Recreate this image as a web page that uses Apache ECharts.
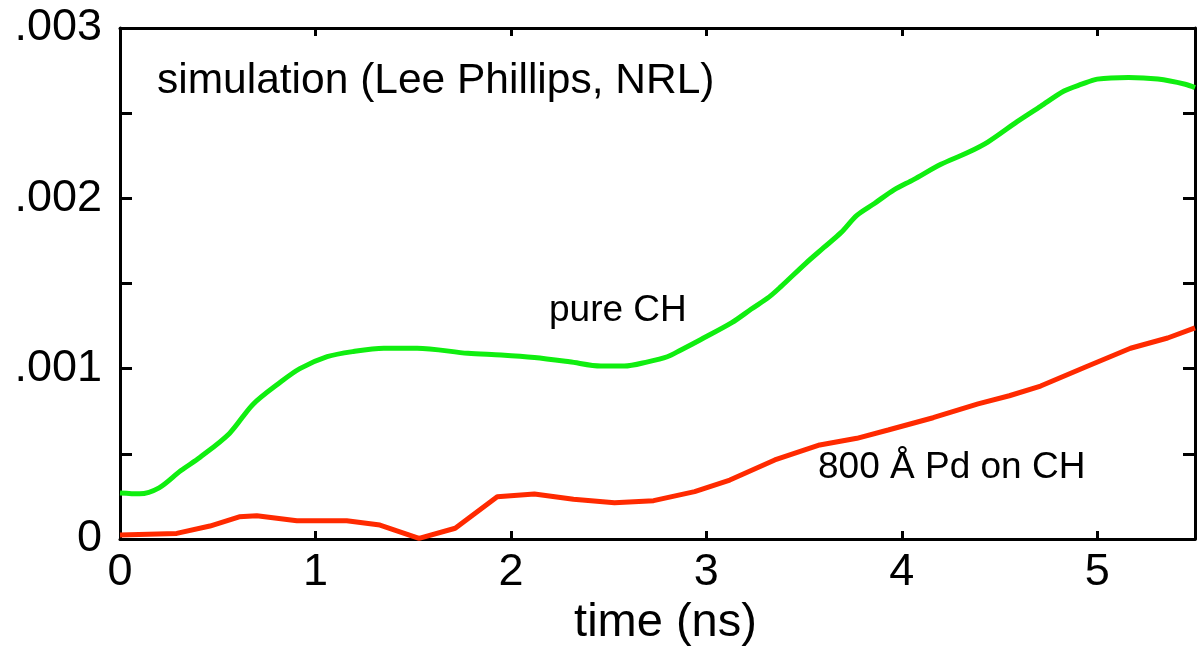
<!DOCTYPE html>
<html>
<head>
<meta charset="utf-8">
<title>simulation (Lee Phillips, NRL)</title>
<script src="https://cdn.jsdelivr.net/npm/echarts@6.0.0/dist/echarts.min.js"></script>
<style>
  html, body { margin: 0; padding: 0; background: #fff; }
  #chart { width: 1203px; height: 652px; }
</style>
</head>
<body>
<div id="chart"></div>
<script>
// values
const pureTime = [0, 0.1, 0.2, 0.31, 0.41, 0.56, 0.68, 0.82, 0.92, 1.06, 1.19, 1.35, 1.52, 1.78, 1.95, 2.12, 2.30, 2.46, 2.58, 2.70, 2.80, 2.87, 2.97, 3.13, 3.23, 3.32, 3.38, 3.51, 3.60, 3.69, 3.77, 3.86, 3.96, 4.06, 4.20, 4.34, 4.44, 4.59, 4.71, 4.83, 4.92, 5.00, 5.16, 5.31, 5.45, 5.5];
const pureCH = [0.00027, 0.000265, 0.0003, 0.0004, 0.00048, 0.00062, 0.00079, 0.00092, 0.001, 0.00107, 0.0011, 0.00112, 0.00112, 0.00109, 0.00108, 0.001065, 0.00104, 0.001015, 0.001015, 0.00104, 0.00107, 0.00111, 0.00117, 0.00127, 0.00135, 0.00142, 0.00148, 0.00162, 0.00171, 0.0018, 0.0019, 0.00197, 0.00205, 0.00211, 0.0022, 0.00227, 0.00233, 0.00245, 0.00254, 0.00263, 0.00267, 0.0027, 0.00271, 0.0027, 0.00267, 0.00265];

const pdTime = [0, 0.29, 0.46, 0.61, 0.70, 0.905, 1.16, 1.33, 1.53, 1.715, 1.93, 2.12, 2.32, 2.53, 2.73, 2.94, 3.12, 3.35, 3.58, 3.77, 3.93, 4.16, 4.39, 4.55, 4.71, 4.94, 5.17, 5.36, 5.5];
const pdOnCH = [0.000023, 0.000033, 0.000076, 0.00013, 0.000137, 0.000107, 0.000107, 0.000082, 0.000004, 0.000063, 0.000248, 0.000264, 0.000233, 0.000213, 0.000225, 0.000278, 0.000346, 0.000464, 0.000552, 0.000591, 0.00064, 0.000712, 0.000793, 0.000841, 0.000898, 0.00101, 0.00112, 0.00118, 0.00124];

const xTickLabels = ["0", "1", "2", "3", "4", "5"];
const yTickLabels = ["0", ".001", ".002", ".003"];

const FONT = "'Liberation Sans', Arial, Helvetica, sans-serif";

const chart = echarts.init(document.getElementById("chart"));

const toPairs = (xs, ys) => xs.map((x, i) => [x, ys[i]]);

const xLabel = (v) => {
  const k = Math.round(v);
  if (Math.abs(v - k) > 1e-6) return "";
  return xTickLabels[k] != null ? xTickLabels[k] : "";
};
const yLabel = (v) => {
  const k = Math.round(v / 0.0005);
  if (k % 2) return "";
  return yTickLabels[k / 2] != null ? yTickLabels[k / 2] : "";
};

const axisLine = { show: true, onZero: false, lineStyle: { color: "#000", width: 3 } };

const option = {
  animation: false,
  grid: { left: 120, right: 8, top: 28, bottom: 113 },
  xAxis: [
    {
      type: "value",
      min: 0,
      max: 5.5,
      interval: 1,
      position: "bottom",
      name: "time (ns)",
      nameLocation: "middle",
      nameGap: 61,
      nameTextStyle: { color: "#000", fontSize: 47, fontFamily: FONT, padding: [0, 0, 0, 16] },
      axisLine: axisLine,
      axisTick: { inside: true, length: 8, lineStyle: { color: "#000", width: 3 } },
      axisLabel: { color: "#000", fontSize: 45, fontFamily: FONT, margin: 11, formatter: xLabel, showMaxLabel: false },
      splitLine: { show: false },
    },
    {
      type: "value",
      min: 0,
      max: 5.5,
      interval: 1,
      position: "top",
      axisLine: axisLine,
      axisTick: { inside: true, length: 8, lineStyle: { color: "#000", width: 3 } },
      axisLabel: { show: false },
      splitLine: { show: false },
    },
  ],
  yAxis: [
    {
      type: "value",
      min: 0,
      max: 0.003,
      interval: 0.0005,
      position: "left",
      axisLine: axisLine,
      axisTick: { inside: true, length: 12, lineStyle: { color: "#000", width: 3 } },
      axisLabel: { color: "#000", fontSize: 45, fontFamily: FONT, margin: 18, formatter: yLabel },
      splitLine: { show: false },
    },
    {
      type: "value",
      min: 0,
      max: 0.003,
      interval: 0.0005,
      position: "right",
      axisLine: axisLine,
      axisTick: { inside: true, length: 12, lineStyle: { color: "#000", width: 3 } },
      axisLabel: { show: false },
      splitLine: { show: false },
    },
  ],
  series: [
    {
      name: "pure CH",
      type: "line",
      data: toPairs(pureTime, pureCH),
      showSymbol: false,
      smooth: 0.3,
      lineStyle: { color: "#10ee10", width: 5 },
      itemStyle: { color: "#10ee10" },
      z: 3,
    },
    {
      name: "800 Å Pd on CH",
      type: "line",
      data: toPairs(pdTime, pdOnCH),
      showSymbol: false,
      lineStyle: { color: "#ff2a00", width: 5 },
      itemStyle: { color: "#ff2a00" },
      z: 3,
    },
  ],
  graphic: [
    {
      type: "text",
      x: 157,
      y: 81,
      style: { text: "simulation (Lee Phillips, NRL)", font: "42.5px " + FONT, fill: "#000", verticalAlign: "middle" },
    },
    {
      type: "text",
      x: 549,
      y: 311,
      style: { text: "pure CH", font: "37px " + FONT, fill: "#000", verticalAlign: "middle" },
    },
    {
      type: "text",
      x: 818,
      y: 468,
      style: { text: "800 Å Pd on CH", font: "37px " + FONT, fill: "#000", verticalAlign: "middle" },
    },
  ],
};

chart.setOption(option);
</script>
</body>
</html>
